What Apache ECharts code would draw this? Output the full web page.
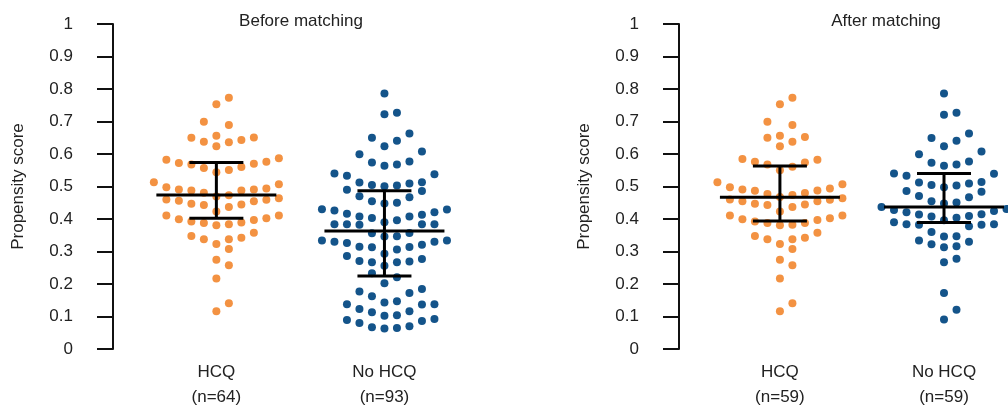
<!DOCTYPE html>
<html>
<head>
<meta charset="utf-8">
<script src="https://cdn.jsdelivr.net/npm/echarts@6/dist/echarts.min.js"></script>
<style>
  html, body { margin: 0; padding: 0; background: #fff; }
  #chart { width: 1008px; height: 409px; }
</style>
</head>
<body>
<div id="chart"></div>
<script>
// values
const groups = ["HCQ", "No HCQ"];
const countsBefore = [64, 93];
const countsAfter = [59, 59];

const hcqBefore = [
  0.773, 0.753, 0.699, 0.689, 0.651, 0.643, 0.636, 0.624, 0.638, 0.650, 0.656,
  0.582, 0.572, 0.568, 0.557, 0.587, 0.544, 0.551, 0.560, 0.570, 0.576,
  0.494, 0.488, 0.488, 0.507, 0.481, 0.491, 0.498, 0.513, 0.491,
  0.469, 0.459, 0.455, 0.445, 0.443, 0.460, 0.437, 0.447, 0.456, 0.464, 0.473, 0.423,
  0.411, 0.402, 0.397, 0.389, 0.384, 0.388, 0.392, 0.399, 0.411, 0.381,
  0.358, 0.348, 0.338, 0.338, 0.323, 0.342, 0.308, 0.275, 0.258, 0.217, 0.141, 0.116
];
const noHcqBefore = [
  0.786, 0.722, 0.727, 0.663, 0.641, 0.650, 0.624, 0.608, 0.599, 0.574,
  0.568, 0.577, 0.564, 0.540, 0.533, 0.538, 0.513, 0.509, 0.505, 0.503,
  0.501, 0.512, 0.486, 0.490, 0.470, 0.467, 0.448, 0.450, 0.455, 0.433,
  0.413, 0.430, 0.426, 0.421, 0.429, 0.396, 0.384, 0.384, 0.403, 0.382,
  0.390, 0.408, 0.384, 0.384, 0.408, 0.416, 0.347, 0.330, 0.326, 0.315,
  0.313, 0.356, 0.334, 0.346, 0.357, 0.306, 0.314, 0.321, 0.330, 0.334,
  0.286, 0.271, 0.267, 0.293, 0.256, 0.267, 0.269, 0.277, 0.233, 0.221,
  0.202, 0.185, 0.172, 0.162, 0.177, 0.147, 0.138, 0.138, 0.137, 0.143,
  0.123, 0.113, 0.116, 0.104, 0.102, 0.092, 0.086, 0.070, 0.067, 0.063,
  0.065, 0.080, 0.089
];
const hcqAfter = [
  0.773, 0.753, 0.699, 0.689, 0.652, 0.650, 0.624, 0.638, 0.656,
  0.585, 0.576, 0.568, 0.550, 0.561, 0.574, 0.582,
  0.507, 0.494, 0.488, 0.487, 0.480, 0.491, 0.498, 0.513,
  0.477, 0.468, 0.459, 0.455, 0.445, 0.443, 0.460, 0.437, 0.447, 0.455, 0.464, 0.474, 0.423,
  0.411, 0.402, 0.397, 0.388, 0.382, 0.388, 0.392, 0.399, 0.411, 0.381,
  0.358, 0.348, 0.338, 0.338, 0.323, 0.342, 0.308, 0.275, 0.258, 0.217, 0.141, 0.116
];
const noHcqAfter = [
  0.786, 0.721, 0.727, 0.663, 0.649, 0.641, 0.624, 0.608, 0.599, 0.577,
  0.573, 0.564, 0.568, 0.539, 0.533, 0.540, 0.512, 0.503, 0.498, 0.505,
  0.509, 0.514, 0.484, 0.467, 0.471, 0.486, 0.455, 0.451, 0.448, 0.415,
  0.408, 0.414, 0.425, 0.421, 0.428, 0.431, 0.384, 0.382, 0.382, 0.404,
  0.378, 0.384, 0.390, 0.396, 0.409, 0.346, 0.330, 0.316, 0.313, 0.360,
  0.322, 0.334, 0.347, 0.267, 0.278, 0.172, 0.121, 0.091, 0.437
];

// mean and the ends of the error bars, per group
const meanBefore = [0.474, 0.363];
const upperBefore = [0.574, 0.487];
const lowerBefore = [0.402, 0.225];
const meanAfter = [0.467, 0.437];
const upperAfter = [0.563, 0.540];
const lowerAfter = [0.394, 0.389];

const titles = ["Before matching", "After matching"];
const yName = "Propensity score";

const orange = "#f39242";
const blue = "#14548a";
const font = "Liberation Sans, Arial, sans-serif";

const chart = echarts.init(document.getElementById("chart"));

function xAxisFor(gridIndex, counts) {
  return {
    type: "value",
    gridIndex: gridIndex,
    min: -0.615,
    max: 1.39,
    axisLine: { show: false, onZero: false },
    axisTick: { show: false },
    splitLine: { show: false },
    axisLabel: {
      customValues: [0, 1],
      formatter: (v) => groups[Math.round(v)] + "\n(n=" + counts[Math.round(v)] + ")",
      color: "#222",
      fontFamily: font,
      fontSize: 17,
      lineHeight: 25,
      margin: 11,
    },
  };
}

function yAxisFor(gridIndex) {
  return {
    type: "value",
    gridIndex: gridIndex,
    min: 0,
    max: 1,
    interval: 0.1,
    name: yName,
    nameLocation: "middle",
    nameGap: 86,
    nameMoveOverlap: false,
    nameTextStyle: { color: "#222", fontFamily: font, fontSize: 17 },
    axisLine: { show: true, onZero: false, lineStyle: { color: "#111", width: 2 } },
    axisTick: { show: true, length: 16, lineStyle: { color: "#111", width: 2 } },
    splitLine: { show: false },
    axisLabel: {
      color: "#222",
      fontFamily: font,
      fontSize: 17,
      margin: 40,
      formatter: (v) => String(Math.round(v * 10) / 10),
    },
  };
}

chart.setOption({
  animation: false,
  backgroundColor: "#fff",
  title: [
    { text: titles[0], left: 296, top: 8, textAlign: "center",
      textStyle: { fontFamily: font, fontSize: 17, fontWeight: "normal", color: "#222" } },
    { text: titles[1], left: 881, top: 8, textAlign: "center",
      textStyle: { fontFamily: font, fontSize: 17, fontWeight: "normal", color: "#222" } },
  ],
  grid: [
    { left: 113, top: 24, width: 337, bottom: 60, outerBoundsMode: "none" },
    { left: 679, top: 24, width: 329, bottom: 60, outerBoundsMode: "none" },
  ],
  xAxis: [xAxisFor(0, countsBefore), xAxisFor(1, countsAfter)],
  yAxis: [yAxisFor(0), yAxisFor(1)],
  series: [],
});

// Prism-like swarm: group close values into rows, spread each row sideways
function swarm(values, center, step, rowH) {
  const sorted = values.slice().sort((a, b) => b - a);
  const rows = [];
  let cur = [];
  let top = null;
  sorted.forEach((v) => {
    if (top === null || top - v <= rowH) {
      if (top === null) top = v;
      cur.push(v);
    } else {
      rows.push(cur);
      cur = [v];
      top = v;
    }
  });
  if (cur.length) rows.push(cur);
  const pts = [];
  rows.forEach((row) => {
    row.sort((a, b) => a - b);
    row.forEach((v, i) => {
      const k = i === 0 ? 0 : i % 2 === 1 ? (i + 1) / 2 : -i / 2;
      pts.push([center + k * step, v]);
    });
  });
  return pts;
}

function unitPx(gridIndex) {
  const a = chart.convertToPixel({ gridIndex: gridIndex }, [0, 0]);
  const b = chart.convertToPixel({ gridIndex: gridIndex }, [1, 0]);
  return b[0] - a[0];
}

const dotGap = 12.5;
const rowH = 0.045;

function bars(gridIndex, mean, lower, upper) {
  return {
    type: "custom",
    xAxisIndex: gridIndex,
    yAxisIndex: gridIndex,
    z: 10,
    data: mean.map((m, i) => [i, m, lower[i], upper[i]]),
    renderItem: (params, api) => {
      const c = api.coord([api.value(0), api.value(1)]);
      const lo = api.coord([api.value(0), api.value(2)]);
      const hi = api.coord([api.value(0), api.value(3)]);
      const style = { stroke: "#000", lineWidth: 3, fill: null };
      return {
        type: "group",
        children: [
          { type: "line", shape: { x1: c[0] - 60, y1: c[1], x2: c[0] + 60, y2: c[1] }, style },
          { type: "line", shape: { x1: c[0], y1: hi[1], x2: c[0], y2: lo[1] }, style },
          { type: "line", shape: { x1: c[0] - 27, y1: hi[1], x2: c[0] + 27, y2: hi[1] }, style },
          { type: "line", shape: { x1: c[0] - 27, y1: lo[1], x2: c[0] + 27, y2: lo[1] }, style },
        ],
      };
    },
  };
}

function dots(gridIndex, values, center, color) {
  const step = dotGap / unitPx(gridIndex);
  return {
    type: "scatter",
    xAxisIndex: gridIndex,
    yAxisIndex: gridIndex,
    symbolSize: 8,
    itemStyle: { color: color, opacity: 1 },
    data: swarm(values, center, step, rowH),
    z: 2,
  };
}

chart.setOption({
  series: [
    dots(0, hcqBefore, 0, orange),
    dots(0, noHcqBefore, 1, blue),
    dots(1, hcqAfter, 0, orange),
    dots(1, noHcqAfter, 1, blue),
    bars(0, meanBefore, lowerBefore, upperBefore),
    bars(1, meanAfter, lowerAfter, upperAfter),
  ],
});
</script>
</body>
</html>
